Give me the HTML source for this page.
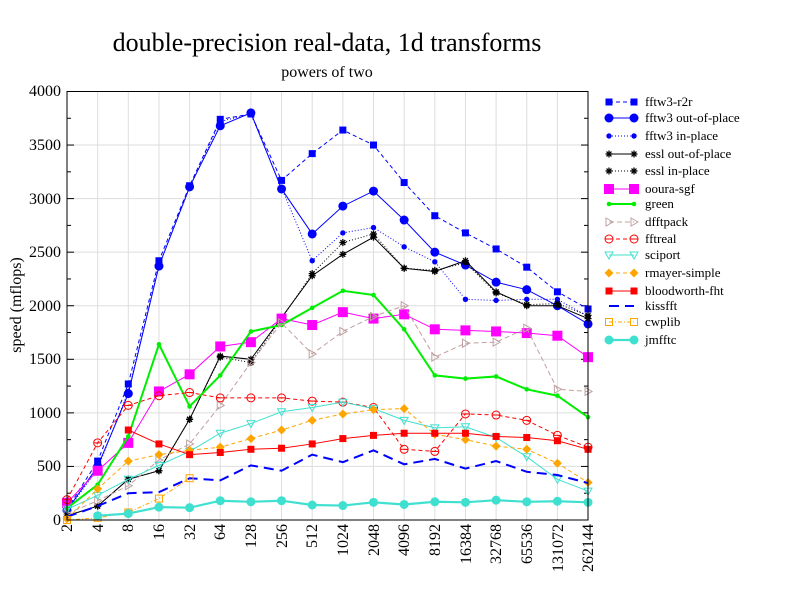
<!DOCTYPE html>
<html><head><meta charset="utf-8"><style>
body{margin:0;background:#fff}
svg{display:block;font-family:"Liberation Serif",serif}
</style></head><body>
<svg id="s" width="792" height="612" viewBox="0 0 792 612" xmlns="http://www.w3.org/2000/svg">
<rect width="792" height="612" fill="#fff"/>
<g id="grid"></g>
<text x="327" y="51" font-size="26" text-anchor="middle">double-precision real-data, 1d transforms</text>
<text x="327" y="77" font-size="16" text-anchor="middle">powers of two</text>
<text transform="translate(21,305) rotate(-90)" font-size="16" text-anchor="middle">speed (mflops)</text>
<g font-size="16" text-anchor="end">
<text x="61" y="525">0</text><text x="61" y="471">500</text><text x="61" y="418">1000</text><text x="61" y="364">1500</text><text x="61" y="311">2000</text><text x="61" y="257">2500</text><text x="61" y="204">3000</text><text x="61" y="150">3500</text><text x="61" y="96">4000</text>
</g>
<g font-size="16" text-anchor="end">
<text transform="translate(72,524) rotate(-90)">2</text>
<text transform="translate(103,524) rotate(-90)">4</text>
<text transform="translate(133,524) rotate(-90)">8</text>
<text transform="translate(164,524) rotate(-90)">16</text>
<text transform="translate(195,524) rotate(-90)">32</text>
<text transform="translate(225,524) rotate(-90)">64</text>
<text transform="translate(256,524) rotate(-90)">128</text>
<text transform="translate(287,524) rotate(-90)">256</text>
<text transform="translate(317,524) rotate(-90)">512</text>
<text transform="translate(348,524) rotate(-90)">1024</text>
<text transform="translate(379,524) rotate(-90)">2048</text>
<text transform="translate(409,524) rotate(-90)">4096</text>
<text transform="translate(440,524) rotate(-90)">8192</text>
<text transform="translate(471,524) rotate(-90)">16384</text>
<text transform="translate(501,524) rotate(-90)">32768</text>
<text transform="translate(532,524) rotate(-90)">65536</text>
<text transform="translate(563,524) rotate(-90)">131072</text>
<text transform="translate(593,524) rotate(-90)">262144</text>
</g>
<g font-size="13">
<text x="645" y="106">fftw3-r2r</text>
<text x="645" y="122">fftw3 out-of-place</text>
<text x="645" y="140">fftw3 in-place</text>
<text x="645" y="158">essl out-of-place</text>
<text x="645" y="175">essl in-place</text>
<text x="645" y="193">ooura-sgf</text>
<text x="645" y="208">green</text>
<text x="645" y="226">dfftpack</text>
<text x="645" y="243">fftreal</text>
<text x="645" y="259">sciport</text>
<text x="645" y="277">rmayer-simple</text>
<text x="645" y="295">bloodworth-fht</text>
<text x="645" y="310">kissfft</text>
<text x="645" y="326">cwplib</text>
<text x="645" y="344">jmfftc</text>
</g>
<g id="plot"></g>
<rect x="67" y="91.5" width="521" height="428.5" fill="none" stroke="#000" stroke-width="1"/>
</svg>
<script>
const NS="http://www.w3.org/2000/svg";
const X=i=>67+30.65*i, Y=v=>520-v*0.10713;
function el(p,t,a){const e=document.createElementNS(NS,t);for(const k in a)e.setAttribute(k,a[k]);p.appendChild(e);return e;}
const g=document.getElementById('grid'),P=document.getElementById('plot');
for(let i=0;i<18;i++)el(g,'line',{x1:X(i),x2:X(i),y1:91.5,y2:520,stroke:'#ddd','stroke-width':1});
for(let v=0;v<=4000;v+=500)el(g,'line',{x1:67,x2:588,y1:Y(v),y2:Y(v),stroke:'#ddd','stroke-width':1});
for(let v=0;v<=4000;v+=250){const l=v%500?4:7;el(g,'line',{x1:67,x2:67+l,y1:Y(v),y2:Y(v),stroke:'#000'});el(g,'line',{x1:588-l,x2:588,y1:Y(v),y2:Y(v),stroke:'#000'});}
function mark(p,m,x,y,c){
 switch(m){
 case'sq':el(p,'rect',{x:x-3.5,y:y-3.5,width:7,height:7,fill:c});break;
 case'bsq':el(p,'rect',{x:x-5,y:y-5,width:10,height:10,fill:c});break;
 case'osq':el(p,'rect',{x:x-3.5,y:y-3.5,width:7,height:7,fill:'none',stroke:c});break;
 case'ci':el(p,'circle',{cx:x,cy:y,r:4.5,fill:c});break;
 case'sci':el(p,'circle',{cx:x,cy:y,r:2.7,fill:c});break;
 case'tci':el(p,'circle',{cx:x,cy:y,r:2.3,fill:c});break;
 case'oci':el(p,'circle',{cx:x,cy:y,r:4,fill:'none',stroke:c});el(p,'line',{x1:x-3.5,x2:x+3.5,y1:y,y2:y,stroke:c});break;
 case'star':for(let a=0;a<4;a++){const t=a*Math.PI/4;el(p,'line',{x1:x-3.5*Math.cos(t),y1:y-3.5*Math.sin(t),x2:x+3.5*Math.cos(t),y2:y+3.5*Math.sin(t),stroke:c,'stroke-width':1.3});}break;
 case'tri':el(p,'polygon',{points:`${x-3},${y-4} ${x+4},${y} ${x-3},${y+4}`,fill:'none',stroke:c});break;
 case'dtri':el(p,'polygon',{points:`${x-4},${y-3} ${x+4},${y-3} ${x},${y+4}`,fill:'none',stroke:c});break;
 case'dia':el(p,'polygon',{points:`${x},${y-4.5} ${x+4.5},${y} ${x},${y+4.5} ${x-4.5},${y}`,fill:c});break;
 case'jm':el(p,'circle',{cx:x,cy:y,r:4.5,fill:c});break;
 }
}
const S=[
 ['#0000ff','4,3',1,'sq',[100,550,1270,2420,3120,3740,3790,3170,3420,3640,3500,3150,2840,2680,2530,2360,2130,1970]],
 ['#0000ff','',1,'ci',[90,500,1180,2370,3110,3680,3800,3090,2670,2930,3070,2800,2500,2380,2220,2150,2000,1830]],
 ['#0000ff','1,2',1,'sci',[80,480,1200,2380,3100,3720,3790,3100,2420,2680,2730,2550,2410,2060,2050,2060,2060,1900]],
 ['#000','',1,'star',[40,130,380,460,940,1530,1500,1890,2280,2480,2640,2350,2320,2420,2130,2000,2000,1880]],
 ['#000','1,2',1,'star',[40,130,380,460,940,1520,1470,1880,2300,2590,2670,2350,2330,2400,2120,2010,2020,1910]],
 ['#ff00ff','',1,'bsq',[160,460,720,1200,1360,1620,1660,1880,1820,1940,1880,1920,1780,1770,1760,1745,1720,1520]],
 ['#00ee00','',2,'tci',[110,330,780,1640,1060,1350,1760,1820,1980,2140,2100,1780,1350,1320,1340,1220,1160,960]],
 ['#c0a0a0','5,3',1,'tri',[60,180,320,560,710,1070,1470,1840,1550,1760,1900,2000,1520,1650,1660,1790,1220,1200]],
 ['#ff0000','4,3',1,'oci',[190,720,1070,1160,1190,1140,1140,1140,1110,1100,1050,660,640,990,980,930,790,680]],
 ['#40e0d0','',1,'dtri',[100,230,380,510,640,810,900,1010,1050,1100,1040,930,860,870,770,590,380,270]],
 ['#ffa500','4,3',1,'dia',[10,290,550,610,650,680,760,840,930,990,1030,1040,800,750,690,660,530,350]],
 ['#ff0000','',1,'sq',[null,null,840,710,610,630,660,670,710,760,790,810,810,810,780,770,740,660]],
 ['#0000ff','10,6',2,null,[30,130,250,260,390,370,510,460,610,540,650,520,570,480,550,450,420,345]],
 ['#ffa500','4,2,1,2',1,'osq',[0,20,70,200,390]],
 ['#40e0d0','',2.2,'jm',[null,40,60,120,115,180,170,180,140,135,165,145,170,165,185,170,175,165]],
];
const LY=[102,118,136,154,171,189,204,222,239,255,273,291,306,322,340];
S.forEach((s,k)=>{
 const [c,d,w,m,v]=s;let pts=[];
 v.forEach((y,i)=>{if(y!=null)pts.push([X(i),Y(y)])});
 el(P,'polyline',{points:pts.map(p=>p.join(',')).join(' '),fill:'none',stroke:c,'stroke-width':w,'stroke-dasharray':d});
 if(m)pts.forEach(p=>mark(P,m,p[0],p[1],c));
 const y=LY[k];
 el(P,'line',{x1:609,x2:634,y1:y,y2:y,stroke:c,'stroke-width':w,'stroke-dasharray':d});
 if(m){mark(P,m,609,y,c);mark(P,m,634,y,c);}
});
</script>
</body></html>
